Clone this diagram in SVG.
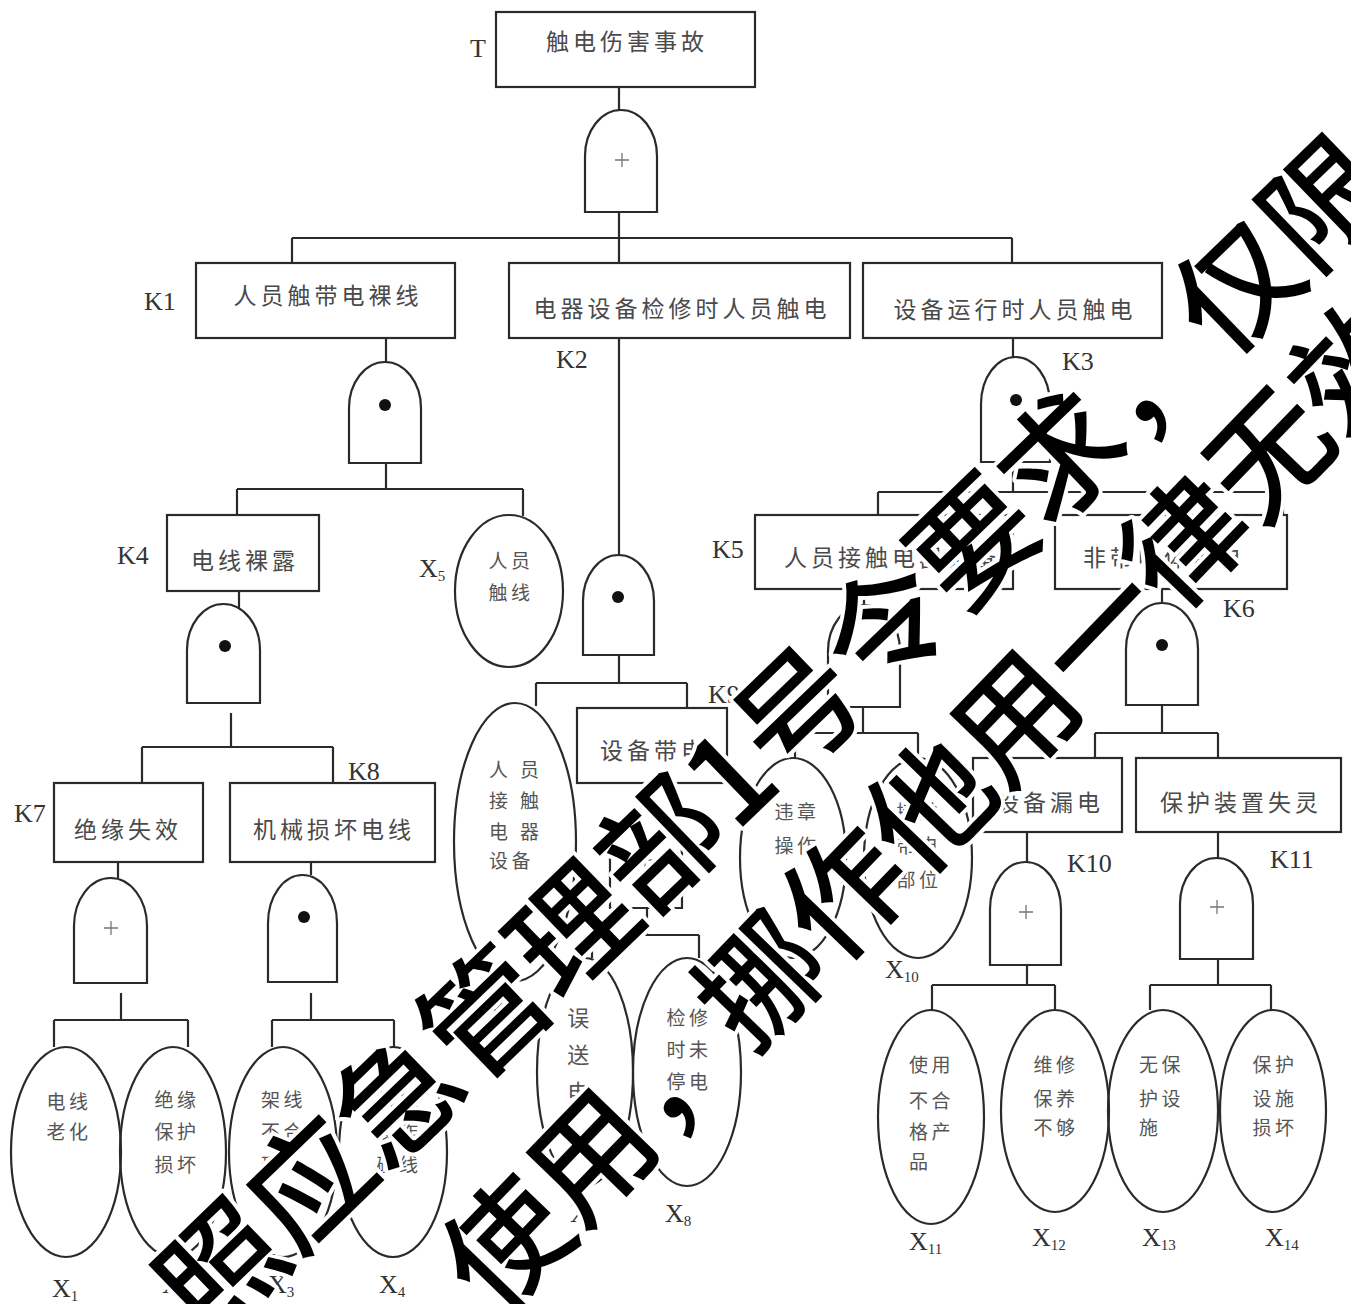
<svg xmlns="http://www.w3.org/2000/svg" width="1351" height="1304" viewBox="0 0 1351 1304">
<style>
.box{fill:#fff;stroke:#2a2a2a;stroke-width:2.2}
.gate{fill:#fff;stroke:#2a2a2a;stroke-width:2.2}
.ell{fill:none;stroke:#2a2a2a;stroke-width:2.2}
.ln{fill:none;stroke:#2a2a2a;stroke-width:2.2}
.dot{fill:#111}
.plus{fill:none;stroke:#777;stroke-width:1.3}
.bt{font-family:"Noto Sans CJK SC","Noto Sans CJK JP",sans-serif;font-size:23px;fill:#4a4a4a;letter-spacing:4px;text-anchor:middle}
.et{font-family:"Noto Sans CJK SC","Noto Sans CJK JP",sans-serif;font-size:19px;fill:#555;letter-spacing:3.5px;text-anchor:middle}
.es{font-family:"Noto Sans CJK SC","Noto Sans CJK JP",sans-serif;font-size:19px;fill:#555;letter-spacing:3.5px}
.lb{font-family:"Liberation Serif",serif;font-size:26px;fill:#333}
.sub{font-size:15px}
.wm{font-family:"Noto Sans CJK SC","Noto Sans CJK JP",sans-serif;font-size:122px;font-weight:500;fill:#000;stroke:#fff;stroke-width:8px;paint-order:stroke;stroke-linejoin:round}
</style>
<rect width="1351" height="1304" fill="#fff"/>

<g id="connectors">
<path class="ln" d="M619 87V110M619 212V238M292 238H1012M292 238V263M619 238V263M1012 238V263"/>
<path class="ln" d="M386 338V362M386 463V489M237 489H523M237 489V515M523 489V516"/>
<path class="ln" d="M239 591V614M231 713V747M142 747H333M142 747V783M333 747V783"/>
<path class="ln" d="M118 862V878M121 993V1020M54 1020H188M54 1020V1047M188 1020V1047"/>
<path class="ln" d="M311 862V875M311 993V1020M272 1020H394M272 1020V1047M394 1020V1047"/>
<path class="ln" d="M619 338V555M619 655V683M536 683H687M536 683V706M687 683V708"/>
<path class="ln" d="M647 783V808M647 908V935M592 935H699M592 935V958M699 935V958"/>
<path class="ln" d="M1013 338V357M1013 462V492M878 492H1283M878 492V515M1283 492V515"/>
<path class="ln" d="M864 589V605M863 707V733M795 733H918M795 733V758M918 733V758"/>
<path class="ln" d="M1162 589V603M1162 705V733M1095 733H1218M1095 733V758M1218 733V758"/>
<path class="ln" d="M1027 832V862M1027 965V985M932 985H1055M932 985V1010M1055 985V1010"/>
<path class="ln" d="M1218 832V858M1218 959V985M1150 985H1271M1150 985V1010M1271 985V1010"/>
</g>

<g id="T">
<rect class="box" x="496" y="12" width="259" height="75"/>
<text class="bt" x="627" y="50">触电伤害事故</text>
<text class="lb" x="470" y="57">T</text>
</g>
<g id="gate-T">
<path class="gate" d="M585 212V156A36 46 0 0 1 657 156V212Z"/>
<path class="plus" d="M615 160H629M622 153V167"/>
</g>

<g id="K1">
<rect class="box" x="196" y="263" width="259" height="75"/>
<text class="bt" x="328" y="304">人员触带电裸线</text>
<text class="lb" x="144" y="310">K1</text>
</g>
<g id="K2">
<rect class="box" x="509" y="263" width="341" height="75"/>
<text class="bt" x="682" y="317">电器设备检修时人员触电</text>
<text class="lb" x="556" y="368">K2</text>
</g>
<g id="K3">
<rect class="box" x="863" y="263" width="299" height="75"/>
<text class="bt" x="1015" y="318">设备运行时人员触电</text>
<text class="lb" x="1062" y="370">K3</text>
</g>

<g id="gate-K1">
<path class="gate" d="M349 463V408A36 46 0 0 1 421 408V463Z"/>
<circle class="dot" cx="385" cy="405" r="6"/>
</g>
<g id="K4">
<rect class="box" x="167" y="515" width="152" height="76"/>
<text class="bt" x="245" y="569">电线裸露</text>
<text class="lb" x="117" y="564">K4</text>
</g>
<g id="X5">
<ellipse class="ell" cx="509" cy="591" rx="54" ry="76"/>
<text class="et"><tspan x="511" y="568">人员</tspan><tspan x="511" y="600">触线</tspan></text>
<text class="lb" x="419" y="577">X<tspan class="sub" dy="4">5</tspan></text>
</g>
<g id="gate-K4">
<path class="gate" d="M187 703V650A36.5 46 0 0 1 260 650V703Z"/>
<circle class="dot" cx="225" cy="646" r="6"/>
</g>
<g id="K7">
<rect class="box" x="54" y="783" width="149" height="79"/>
<text class="bt" x="128" y="838">绝缘失效</text>
<text class="lb" x="14" y="822">K7</text>
</g>
<g id="K8">
<rect class="box" x="230" y="783" width="205" height="79"/>
<text class="bt" x="334" y="838">机械损坏电线</text>
<text class="lb" x="348" y="780">K8</text>
</g>
<g id="gate-K7">
<path class="gate" d="M74 983V926A36.5 48 0 0 1 147 926V983Z"/>
<path class="plus" d="M104 928H118M111 921V935"/>
</g>
<g id="gate-K8">
<path class="gate" d="M268 982V923A34.5 48 0 0 1 337 923V982Z"/>
<circle class="dot" cx="304" cy="917" r="6"/>
</g>
<g id="X1">
<ellipse class="ell" cx="66" cy="1152" rx="55" ry="105"/>
<text class="et"><tspan x="69" y="1109">电线</tspan><tspan x="69" y="1139">老化</tspan></text>
<text class="lb" x="52" y="1297">X<tspan class="sub" dy="4">1</tspan></text>
</g>
<g id="X2">
<ellipse class="ell" cx="173" cy="1152" rx="53" ry="105"/>
<text class="et"><tspan x="177" y="1107">绝缘</tspan><tspan x="177" y="1139">保护</tspan><tspan x="177" y="1172">损坏</tspan></text>
<text class="lb" x="162" y="1293">X<tspan class="sub" dy="4">2</tspan></text>
</g>
<g id="X3">
<ellipse class="ell" cx="283" cy="1152" rx="54" ry="105"/>
<text class="es"><tspan x="261" y="1107">架线</tspan><tspan x="261" y="1139">不合</tspan><tspan x="261" y="1172">理</tspan></text>
<text class="lb" x="268" y="1293">X<tspan class="sub" dy="4">3</tspan></text>
</g>
<g id="X4">
<ellipse class="ell" cx="393" cy="1152" rx="54" ry="105"/>
<text class="et"><tspan x="399" y="1107">机械</tspan><tspan x="399" y="1139">操作</tspan><tspan x="399" y="1172">碰线</tspan></text>
<text class="lb" x="379" y="1293">X<tspan class="sub" dy="4">4</tspan></text>
</g>

<g id="gate-K2">
<path class="gate" d="M583 655V601A35.5 46 0 0 1 654 601V655Z"/>
<circle class="dot" cx="618" cy="597" r="6"/>
</g>
<g id="X6">
<ellipse class="ell" cx="515" cy="842" rx="61" ry="139"/>
<text class="es"><tspan x="489" y="777">人</tspan><tspan x="520" y="777">员</tspan><tspan x="489" y="808">接</tspan><tspan x="520" y="808">触</tspan><tspan x="489" y="839">电</tspan><tspan x="520" y="839">器</tspan><tspan x="489" y="868">设备</tspan></text>
<text class="lb" x="486" y="1020">X<tspan class="sub" dy="4">6</tspan></text>
</g>
<g id="K9">
<rect class="box" x="577" y="708" width="150" height="75"/>
<text class="bt" x="654" y="759">设备带电</text>
<text class="lb" x="708" y="703">K9</text>
</g>
<g id="gate-K9">
<path class="gate" d="M610 908V854A36 46 0 0 1 682 854V908Z"/>
<path class="plus" d="M638 860H652M645 853V867"/>
</g>
<g id="X7">
<ellipse class="ell" cx="585" cy="1072" rx="48" ry="114"/>
<text class="et" style="font-size:22px"><tspan x="580" y="1026">误</tspan><tspan x="580" y="1063">送</tspan><tspan x="580" y="1100">电</tspan></text>
<text class="lb" x="570" y="1222">X<tspan class="sub" dy="4">7</tspan></text>
</g>
<g id="X8">
<ellipse class="ell" cx="687" cy="1072" rx="54" ry="114"/>
<text class="et"><tspan x="689" y="1025">检修</tspan><tspan x="689" y="1057">时未</tspan><tspan x="689" y="1089">停电</tspan></text>
<text class="lb" x="665" y="1222">X<tspan class="sub" dy="4">8</tspan></text>
</g>

<g id="gate-K3">
<path class="gate" d="M981 462V404A34.5 47 0 0 1 1050 404V462Z"/>
<circle class="dot" cx="1016" cy="400" r="6"/>
</g>
<g id="K5">
<rect class="box" x="755" y="515" width="258" height="74"/>
<text class="bt" x="892" y="566">人员接触电器设备</text>
<text class="lb" x="712" y="558">K5</text>
</g>
<g id="K6">
<rect class="box" x="1055" y="515" width="232" height="74"/>
<text class="bt" x="1164" y="566">非带电体带电</text>
<text class="lb" x="1223" y="617">K6</text>
</g>
<g id="gate-K5">
<path class="gate" d="M828 707V651A36 46 0 0 1 900 651V707Z"/>
<path class="plus" d="M855 655H869M862 648V662"/>
</g>
<g id="X9">
<ellipse class="ell" cx="793" cy="858" rx="53" ry="100"/>
<text class="et"><tspan x="797" y="819">违章</tspan><tspan x="797" y="853">操作</tspan></text>
<text class="lb" x="770" y="985">X<tspan class="sub" dy="4">9</tspan></text>
</g>
<g id="X10">
<ellipse class="ell" cx="918" cy="858" rx="54" ry="100"/>
<text class="et"><tspan x="919" y="819">接触</tspan><tspan x="919" y="853">带电</tspan><tspan x="919" y="887">部位</tspan></text>
<text class="lb" x="885" y="978">X<tspan class="sub" dy="4">10</tspan></text>
</g>
<g id="gate-K6">
<path class="gate" d="M1126 705V649A36 46 0 0 1 1198 649V705Z"/>
<circle class="dot" cx="1162" cy="645" r="6"/>
</g>
<g id="K10">
<rect class="box" x="973" y="758" width="149" height="74"/>
<text class="bt" x="1050" y="811">设备漏电</text>
<text class="lb" x="1067" y="872">K10</text>
</g>
<g id="K11">
<rect class="box" x="1136" y="758" width="205" height="74"/>
<text class="bt" x="1241" y="811">保护装置失灵</text>
<text class="lb" x="1270" y="868">K11</text>
</g>
<g id="gate-K10">
<path class="gate" d="M990 965V909A35.5 47 0 0 1 1061 909V965Z"/>
<path class="plus" d="M1019 912H1033M1026 905V919"/>
</g>
<g id="gate-K11">
<path class="gate" d="M1180 959V904A36.5 46 0 0 1 1253 904V959Z"/>
<path class="plus" d="M1210 907H1224M1217 900V914"/>
</g>
<g id="X11">
<ellipse class="ell" cx="931" cy="1117" rx="53" ry="107"/>
<text class="es"><tspan x="909" y="1072">使用</tspan><tspan x="909" y="1108">不合</tspan><tspan x="909" y="1139">格产</tspan><tspan x="909" y="1169">品</tspan></text>
<text class="lb" x="909" y="1250">X<tspan class="sub" dy="4">11</tspan></text>
</g>
<g id="X12">
<ellipse class="ell" cx="1055" cy="1111" rx="54" ry="101"/>
<text class="et"><tspan x="1056" y="1072">维修</tspan><tspan x="1056" y="1106">保养</tspan><tspan x="1056" y="1135">不够</tspan></text>
<text class="lb" x="1032" y="1246">X<tspan class="sub" dy="4">12</tspan></text>
</g>
<g id="X13">
<ellipse class="ell" cx="1163" cy="1111" rx="55" ry="101"/>
<text class="es"><tspan x="1139" y="1072">无保</tspan><tspan x="1139" y="1106">护设</tspan><tspan x="1139" y="1135">施</tspan></text>
<text class="lb" x="1142" y="1246">X<tspan class="sub" dy="4">13</tspan></text>
</g>
<g id="X14">
<ellipse class="ell" cx="1273" cy="1111" rx="53" ry="101"/>
<text class="et"><tspan x="1275" y="1072">保护</tspan><tspan x="1275" y="1106">设施</tspan><tspan x="1275" y="1135">损坏</tspan></text>
<text class="lb" x="1265" y="1246">X<tspan class="sub" dy="4">14</tspan></text>
</g>

<g id="watermark">
<g transform="translate(884,628) rotate(-44)"><text class="wm" x="-982" y="45">照应急管理部1号令要求，仅限</text></g>
<g transform="translate(930,805) rotate(-46)"><text class="wm" x="-671" y="45">使用，挪作他用一律无效</text></g>
</g>
</svg>
